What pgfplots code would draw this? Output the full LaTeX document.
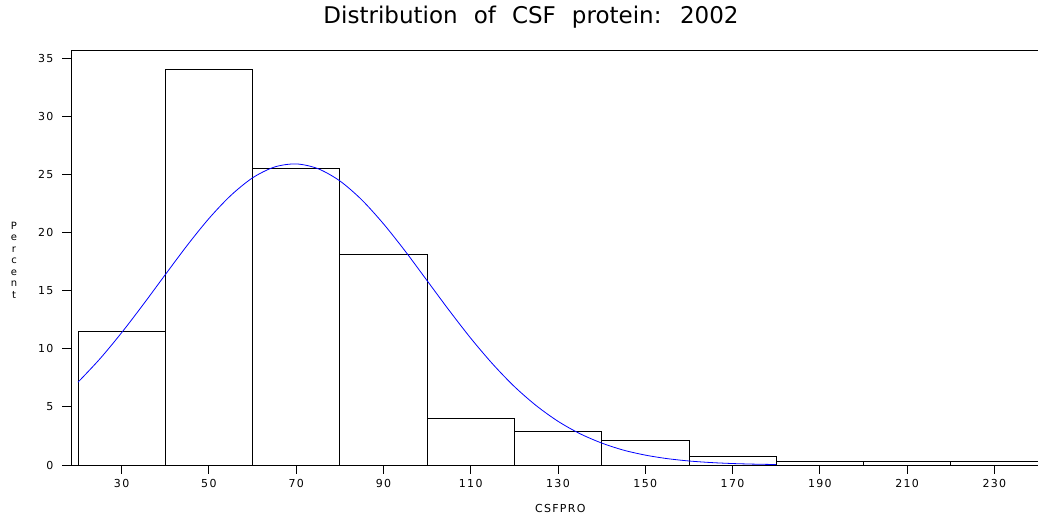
\documentclass[border=0pt]{standalone}
\usepackage{fontspec}
\setmainfont{DejaVu Sans}
\usepackage{pgfplots}
\pgfplotsset{compat=1.18}
\newfontfamily\titlefont[WordSpace=2.2]{DejaVu Sans}
\newfontfamily\tickfont[LetterSpace=12]{DejaVu Sans}
\newfontfamily\labfont[LetterSpace=12]{DejaVu Sans}
\begin{document}
\begin{tikzpicture}[x=1pt,y=1pt]
\path[use as bounding box] (-71,-56) rectangle (967,465);
\begin{axis}[
  at={(0,0)}, anchor=south west,
  scale only axis, width=967pt, height=415pt,
  xmin=18.4, xmax=240, ymin=0, ymax=35.7,
  axis line style={black, line width=0.8pt},
  xtick={30,50,...,230}, ytick={0,5,...,35},
  tick align=outside, tick pos=left, major tick length=9pt,
  tick style={black, line width=0.8pt},
  /pgf/number format/assume math mode=true,
  ticklabel style={font=\tickfont\fontsize{11}{13}\selectfont},
  yticklabel style={xshift=-5pt},
  xticklabel style={yshift=-2pt},
  xlabel={CSFPRO},
  xlabel style={font=\labfont\fontsize{11}{13}\selectfont, at={(axis description cs:0.506,0)}, anchor=center, yshift=-43pt},
  ylabel={P\\e\\r\\c\\e\\n\\t},
  ylabel style={rotate=-90, align=center, font=\fontsize{10}{11.5}\selectfont, at={(axis description cs:0,0.494)}, anchor=center, xshift=-57pt},
]
\addplot[ybar interval, draw=black, fill=white, line width=0.8pt] coordinates {
(20,11.5) (40,34.0) (60,25.5) (80,18.15) (100,4.05) (120,2.9) (140,2.15) (160,0.7) (180,0.35) (200,0.35) (220,0.35) (240,0.35)
};
\addplot[blue, line width=0.8pt, smooth, mark=none] coordinates {
(20,7.12) (25,9.12) (30,11.38) (35,13.83) (40,16.37) (45,18.88) (50,21.20) (55,23.18) (60,24.70) (65,25.63) (70,25.90) (75,25.49) (80,24.44) (85,22.82) (90,20.75) (95,18.39) (100,15.86) (105,13.33) (110,10.91) (115,8.70) (120,6.75) (125,5.11) (130,3.76) (135,2.70) (140,1.89) (145,1.28) (150,0.851) (155,0.550) (160,0.346) (165,0.212) (170,0.126) (175,0.073) (180,0.041)
};
\end{axis}
\node[anchor=base, font=\titlefont\fontsize{23}{27}\selectfont] at (460,441) {Distribution of CSF protein: 2002};
\end{tikzpicture}
\end{document}
